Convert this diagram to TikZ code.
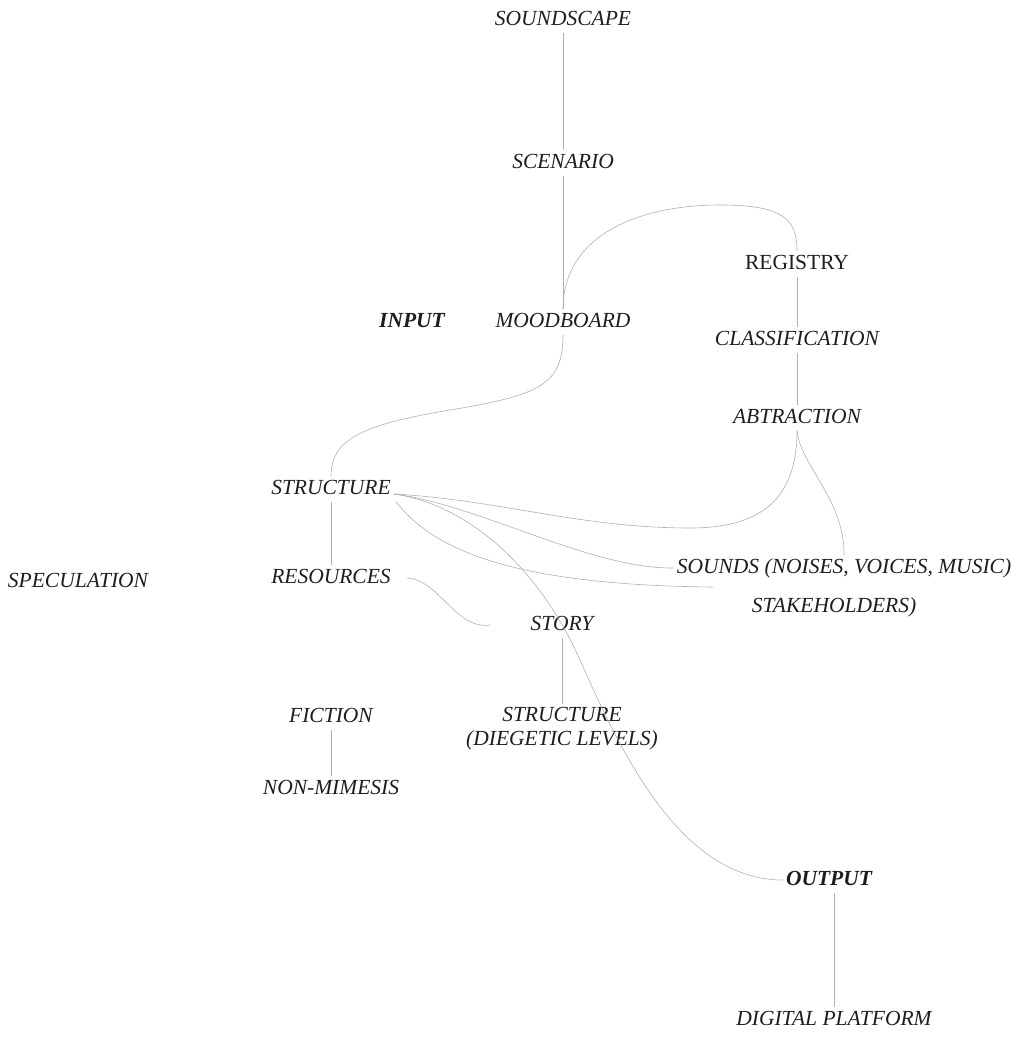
\documentclass[tikz,border=0pt]{standalone}
\usepackage{fontspec}
\setmainfont{Liberation Serif}
\usepackage{tikz}
\usepackage{xcolor}
\usetikzlibrary{calc}
\definecolor{Ink}{HTML}{1E1E1E}
\definecolor{Wire}{HTML}{B0B0B0}

\begin{document}
\begin{tikzpicture}[x=1pt,y=-1pt,
  lbl/.style={text=Ink,font=\fontsize{21.5}{24}\selectfont\itshape,inner sep=3pt,text height=15pt,text depth=4pt},
  key/.style={lbl,font=\fontsize{21.5}{24}\selectfont\bfseries\itshape},
  plain/.style={lbl,font=\fontsize{21.5}{24}\selectfont\upshape},
  twoline/.style={text=Ink,font=\fontsize{21.5}{24}\selectfont\itshape,inner sep=3pt,align=center},
  wire/.style={Wire,line width=0.6pt}]
  \useasboundingbox (0,0) rectangle (1014,1040);
  \node[lbl] (soundscape) at (563,20) {SOUNDSCAPE};
  \node[lbl] (scenario) at (563,163) {SCENARIO};
  \node[plain] (registry) at (797,264) {REGISTRY};
  \node[key] (input) at (412,322) {INPUT};
  \node[lbl] (moodboard) at (563,322) {MOODBOARD};
  \node[lbl] (classif) at (797,340) {CLASSIFICATION};
  \node[lbl] (abtract) at (797,418) {ABTRACTION};
  \node[lbl] (structure) at (331,489) {STRUCTURE};
  \node[lbl] (specul) at (78,582) {SPECULATION};
  \node[lbl] (resources) at (331,578) {RESOURCES};
  \node[lbl] (sounds) at (844,568) {SOUNDS (NOISES, VOICES, MUSIC)};
  \node[lbl] (stakehold) at (834,607) {STAKEHOLDERS)};
  \node[lbl] (story) at (562,625) {STORY};
  \node[lbl] (fiction) at (331,717) {FICTION};
  \node[twoline] (diegetic) at (562,729) {STRUCTURE\\(DIEGETIC LEVELS)};
  \node[lbl] (nonmim) at (331,789) {NON-MIMESIS};
  \node[key] (output) at (829,880) {OUTPUT};
  \node[lbl] (digital) at (834,1020) {DIGITAL PLATFORM};
  \coordinate (strout) at ([yshift=-5pt]structure.east);
  \coordinate (stakein) at (713,587);

  \draw[wire] (soundscape.south) -- (scenario.north);
  \draw[wire] (scenario.south) -- (moodboard.north);
  \draw[wire] (moodboard.north) .. controls +(0,-75) and (640,205) .. (720,205) .. controls (785,205) and (797,220) .. (registry.north);
  \draw[wire] (registry.south) -- (classif.north);
  \draw[wire] (classif.south) -- (abtract.north);
  \draw[wire] (moodboard.south) .. controls (563,385) and (540,395) .. (450,410) .. controls (360,425) and (331,440) .. (structure.north);
  \draw[wire] (strout) .. controls (500,500) and (580,528) .. (690,528) .. controls (760,528) and (797,500) .. (abtract.south);
  \draw[wire] (abtract.south) .. controls (800,465) and (845,500) .. (sounds.north);
  \draw[wire] (strout) .. controls (480,505) and (590,569) .. (sounds.west);
  \draw[wire] (strout) .. controls (470,505) and (540,570) .. (580,660) .. controls (620,750) and (680,880) .. (output.west);
  \draw[wire] ([xshift=2pt]structure.south east) .. controls (430,545) and (500,585) .. (stakein);
  \draw[wire] (structure.south) -- (resources.north);
  \draw[wire] ([xshift=13pt]resources.east) .. controls (440,580) and (455,630) .. ([xshift=-37pt]story.west);
  \draw[wire] (story.south) -- (diegetic.north);
  \draw[wire] (fiction.south) -- (nonmim.north);
  \draw[wire] (digital.north |- output.south) -- (digital.north);
\end{tikzpicture}
\end{document}
